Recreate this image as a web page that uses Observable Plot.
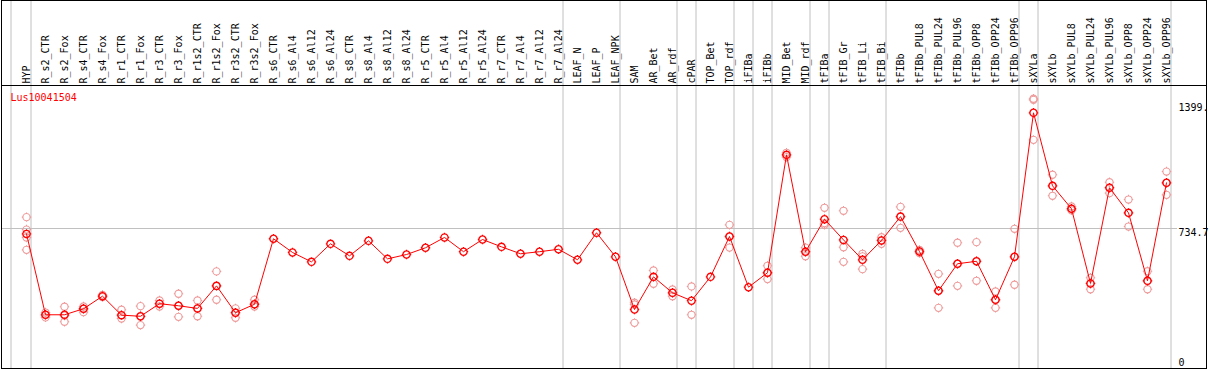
<!DOCTYPE html>
<html>
<head>
<meta charset="utf-8">
<script src="https://cdn.jsdelivr.net/npm/d3@7"></script>
<script src="https://cdn.jsdelivr.net/npm/@observablehq/plot@0.6"></script>
<style>
  html, body { margin: 0; padding: 0; background: #fff; }
  #chart svg { display: block; }
</style>
</head>
<body>
<div id="chart"></div>
<script>
const geneName = "Lus10041504";

const categories = [
  "HYP","R_s2_CTR","R_s2_Fox","R_s4_CTR","R_s4_Fox","R_r1_CTR","R_r1_Fox","R_r3_CTR","R_r3_Fox",
  "R_r1s2_CTR","R_r1s2_Fox","R_r3s2_CTR","R_r3s2_Fox","R_s6_CTR","R_s6_Al4","R_s6_Al12","R_s6_Al24",
  "R_s8_CTR","R_s8_Al4","R_s8_Al12","R_s8_Al24","R_r5_CTR","R_r5_Al4","R_r5_Al12","R_r5_Al24",
  "R_r7_CTR","R_r7_Al4","R_r7_Al12","R_r7_Al24","LEAF_N","LEAF_P","LEAF_NPK","SAM","AR_Bet","AR_rdf",
  "cPAR","TOP_Bet","TOP_rdf","iFIBa","iFIBb","MID_Bet","MID_rdf","tFIBa","tFIB_Gr","tFIB_Li","tFIB_Bi",
  "tFIBb","tFIBb_PUL8","tFIBb_PUL24","tFIBb_PUL96","tFIBb_OPP8","tFIBb_OPP24","tFIBb_OPP96",
  "sXYLa","sXYLb","sXYLb_PUL8","sXYLb_PUL24","sXYLb_PUL96","sXYLb_OPP8","sXYLb_OPP24","sXYLb_OPP96"
];

const meanValues = [
  706, 275, 275, 307, 374, 273, 267, 334, 323,
  309, 429, 286, 331, 680, 607, 557, 653,
  589, 669, 573, 596, 632, 687, 611, 676,
  637, 600, 611, 624, 568, 712, 584, 303, 477, 392,
  350, 477, 692, 422, 499, 1127, 611, 784, 674, 568, 671,
  798, 612, 403, 547, 560, 355, 584,
  1351, 962, 840, 442, 952, 818, 456, 978
];

const replicateValues = [
  [795, 729, 687, 621], [287, 275, 261], [318, 271, 238], [319, 307, 289], [381, 369, 374],
  [302, 273, 255], [321, 266, 220], [351, 334, 319], [387, 323, 264],
  [351, 309, 267], [506, 429, 355], [309, 286, 259], [355, 331, 319],
  [], [], [], [],
  [], [], [], [], [], [], [], [],
  [], [], [], [], [], [], [],
  [339, 330, 232], [511, 477, 440], [410, 392, 374],
  [426, 275], [], [754, 692, 633], [], [536, 499, 465],
  [1138, 1127, 1115], [633, 611, 587], [845, 763, 754], [829, 635, 557], [600, 586, 518], [688, 671, 653],
  [850, 798, 738], [620, 612, 604], [493, 403, 312], [659, 547, 429], [662, 560, 456], [399, 355, 312], [733, 584, 435],
  [1426, 1420, 1207], [1021, 962, 909], [852, 840, 831], [472, 442, 411], [981, 952, 923], [889, 818, 745], [507, 456, 411], [1038, 978, 914]
];

// last category of each group (a separator follows it), plus the first category (separator before it)
const groupEnds = ["HYP","R_r7_Al24","LEAF_NPK","AR_rdf","cPAR","TOP_rdf","iFIBa","iFIBb","MID_rdf","tFIBa","tFIB_Bi","tFIBb_OPP96","sXYLa","sXYLb_OPP96"];
const groupStarts = ["HYP"];

const yTickValues = [1399, 734.7, 0];
const yTickLabels = ["1399.", "734.7", "0"];
const gridValues = [734.7];

// ---- tables built from the arrays ----
const means = categories.map((c, i) => ({cat: c, value: meanValues[i]}));
const reps = categories.flatMap((c, i) => replicateValues[i].map(v => ({cat: c, value: v})));
const yTicks = yTickValues.map((v, i) => ({v, label: yTickLabels[i]}));

// circle with four small stubs, like the reference marker
const ringSymbol = {
  draw(ctx, size) {
    const r = Math.sqrt(size / Math.PI);
    const t = 1.1;
    ctx.moveTo(r, 0);
    ctx.arc(0, 0, r, 0, 2 * Math.PI);
    ctx.moveTo(0, -r); ctx.lineTo(0, -r - t);
    ctx.moveTo(0, r); ctx.lineTo(0, r + t);
    ctx.moveTo(-r, 0); ctx.lineTo(-r - t, 0);
    ctx.moveTo(r, 0); ctx.lineTo(r + t, 0);
  }
};

const W = 1209, H = 370, MT = 85;
const gray = "#c0c0c0";

const chart = Plot.plot({
  width: W,
  height: H,
  marginTop: MT,
  marginBottom: 2,
  marginLeft: 1,
  marginRight: 3,
  style: {fontFamily: "'DejaVu Sans Mono', 'Liberation Mono', monospace", fontSize: "10px", background: "#fff", color: "#000"},
  x: {type: "point", domain: categories, range: [26, 1166], padding: 0, axis: null},
  y: {domain: [-11.2, 1496.5], axis: null},
  marks: [
    // horizontal grid line
    Plot.ruleY(gridValues, {stroke: gray, strokeWidth: 1, insetRight: 29}),
    // vertical group separators, through the header as well
    Plot.ruleX(groupEnds, {x: d => d, dx: 4.5, stroke: gray, strokeWidth: 1, insetTop: -MT}),
    Plot.ruleX(groupStarts, {x: d => d, dx: -15.5, stroke: gray, strokeWidth: 1, insetTop: -MT}),
    // frames: outer box and header separator
    Plot.frame({stroke: "#000", insetTop: -MT}),
    Plot.frame({stroke: "#000"}),
    // category labels in the header
    Plot.axisX({anchor: "top", tickRotate: -90, tickSize: 0, tickPadding: 2, label: null, fontSize: 10, fill: "#000"}),
    // replicate points
    Plot.dot(reps, {x: "cat", y: "value", r: 3.6, symbol: ringSymbol, stroke: "#ee9a9a", strokeWidth: 1.1, fill: "none"}),
    // mean line and points
    Plot.line(means, {x: "cat", y: "value", stroke: "#ff0000", strokeWidth: 1}),
    Plot.dot(means, {x: "cat", y: "value", r: 3.6, symbol: ringSymbol, stroke: "#ff0000", strokeWidth: 1.3, fill: "none"}),
    // right-hand value labels
    Plot.text(yTicks.filter(d => d.v !== 0), {y: "v", text: "label", frameAnchor: "right", dx: -28, textAnchor: "start", lineAnchor: "top", fill: "#000"}),
    Plot.text(yTicks.filter(d => d.v === 0), {y: "v", text: "label", frameAnchor: "right", dx: -28, textAnchor: "start", lineAnchor: "bottom", fill: "#000"}),
    // gene name
    Plot.text([geneName], {frameAnchor: "top-left", dx: 9, dy: 8, textAnchor: "start", lineAnchor: "top", fill: "#ff0000"})
  ]
});

document.getElementById("chart").appendChild(chart);
</script>
</body>
</html>
